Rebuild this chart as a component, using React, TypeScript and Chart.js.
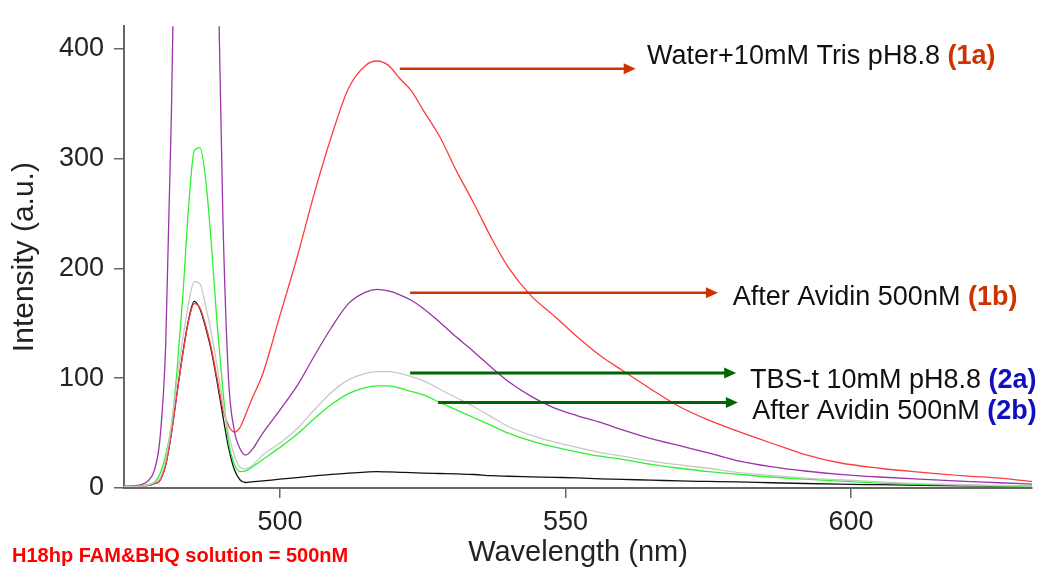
import React, { useEffect, useRef } from "react";
import { Chart, registerables } from "chart.js";

Chart.register(...registerables);

// Wavelength (nm) sampling points, shared by every spectrum
const WAVELENGTH = [
  472.7, 474, 476, 477, 478, 479, 480, 481, 482, 483, 484, 485, 486, 487, 488, 489, 490, 491, 492, 493,
  494, 495, 497, 500, 503, 506, 509, 512, 515, 517, 519, 521, 523, 525, 528, 531, 534, 537, 540, 544,
  548, 552, 556, 560, 565, 570, 575, 580, 586, 592, 598, 605, 612, 620, 626, 631.7,
];

// (1a) Water + 10mM Tris pH8.8 — red
const WATER_TRIS_1A = [
  1.5, 1.5, 2, 2.5, 4, 7, 21, 50, 87, 122, 152, 168, 164, 148, 127, 100, 72, 57, 51, 55,
  67, 80, 104, 157, 210, 268, 320, 364, 385, 389, 385, 373, 362, 345, 320, 288, 259, 228, 201, 175,
  157, 138, 121, 107, 90, 74, 62, 52, 41, 30.5, 23, 18, 14.5, 11, 9, 6,
];

// (1b) After Avidin 500nM — purple
const AVIDIN_1B = [
  1.5, 2, 3.5, 7, 16, 45, 130, 340, 650, 900, 1080, 1150, 1130, 1020, 820, 520, 250, 100, 53, 36,
  30, 34, 50, 71, 93, 120, 146, 168, 178.5, 181, 179.5, 176, 171, 164, 151, 137, 124, 110, 97, 83.5,
  73, 66, 60, 53, 45, 38.5, 32, 25, 19.5, 15.5, 12.5, 10, 8, 6, 4.8, 3.5,
];

// (2a) TBS-t 10mM pH8.8 — light gray
const TBS_T_2A = [
  1.5, 1.5, 2, 3, 5, 9, 26, 58, 98, 136, 168, 188, 186, 166, 141, 111, 78, 50, 30, 19,
  17.5, 20, 30, 41, 54, 71, 87, 98.5, 104.5, 106, 106, 104.5, 101.5, 98, 90, 82, 74, 65, 56, 48,
  42, 37, 32.5, 29, 24.5, 21, 18, 14.3, 11.5, 9, 7.5, 5.5, 4, 3, 2.3, 1.8,
];

// (2b) After Avidin 500nM — green
const AVIDIN_2B = [
  1.5, 1.5, 2, 3, 5, 13, 30, 57, 108, 175, 255, 307, 310, 281, 222, 150, 90, 42, 22, 15,
  15.5, 18.5, 26, 37, 49, 63, 76, 86, 91.5, 93, 93, 91, 88, 85, 78, 71, 64, 57, 50, 43,
  37.5, 33, 29, 26, 21.5, 18, 15, 12.7, 10, 8, 6.2, 4.5, 3.3, 2.5, 2, 1.5,
];

// Reference trace — black
const REFERENCE = [
  1.5, 1.5, 2, 2.5, 4, 7, 21, 50, 87, 123, 153, 170, 163, 146, 125, 97, 66, 37, 17, 7.5,
  5, 5.5, 6.5, 8, 9.5, 11, 12.5, 13.5, 14.5, 15, 14.6, 14.3, 14, 13.6, 13.2, 12.8, 12.3, 11.2, 10.7, 10.2,
  9.7, 9.2, 8.4, 7.8, 7.2, 6.4, 6, 5.6, 4.8, 4.1, 3.5, 3, 2.5, 2, 1.7, 1.5,
];

const X_TICKS = [500, 550, 600];
const Y_TICKS = [0, 100, 200, 300, 400];
const X_MIN = 472.7;
const X_MAX = 631.7;
const Y_MIN = 0;
const Y_MAX = 420.7;

const X_TITLE = "Wavelength (nm)";
const Y_TITLE = "Intensity (a.u.)";
const NOTE = "H18hp FAM&BHQ solution = 500nM";

const ANNOTATION_LABELS = [
  "Water+10mM Tris pH8.8",
  "After Avidin 500nM",
  "TBS-t 10mM pH8.8",
  "After Avidin 500nM",
];
const ANNOTATION_TAGS = ["(1a)", "(1b)", "(2a)", "(2b)"];

const FONT = '"Liberation Sans", Arial, Helvetica, sans-serif';

// annotation layout (in data units: wavelength / intensity)
const ANNOTATIONS = [
  { x0: 521.0, x1: 562.3, y: 382, tx: 564.3, ty: 392.8, arrow: "#cc3300", tag: "#cc3300", w: 2.5 },
  { x0: 522.8, x1: 576.7, y: 177.8, tx: 579.3, ty: 173.3, arrow: "#cc3300", tag: "#cc3300", w: 2.5 },
  { x0: 522.8, x1: 579.9, y: 104.7, tx: 582.3, ty: 97.5, arrow: "#006600", tag: "#1010c0", w: 3 },
  { x0: 527.7, x1: 580.2, y: 77.9, tx: 582.7, ty: 69.8, arrow: "#006600", tag: "#1010c0", w: 3 },
];

const annotationPlugin = {
  id: "spectraAnnotations",
  beforeDraw(chart: any) {
    const { ctx, width, height } = chart;
    ctx.save();
    ctx.fillStyle = "#ffffff";
    ctx.fillRect(0, 0, width, height);
    ctx.restore();
  },
  afterDraw(chart: any) {
    const { ctx } = chart;
    const xs = chart.scales.x;
    const ys = chart.scales.y;
    ctx.save();
    ANNOTATIONS.forEach((a, i) => {
      const px0 = xs.getPixelForValue(a.x0);
      const px1 = xs.getPixelForValue(a.x1);
      const py = ys.getPixelForValue(a.y);
      ctx.strokeStyle = a.arrow;
      ctx.lineWidth = a.w;
      ctx.beginPath();
      ctx.moveTo(px0, py);
      ctx.lineTo(px1 - 8, py);
      ctx.stroke();
      ctx.fillStyle = a.arrow;
      ctx.beginPath();
      ctx.moveTo(px1, py);
      ctx.lineTo(px1 - 12, py - 5.5);
      ctx.lineTo(px1 - 12, py + 5.5);
      ctx.closePath();
      ctx.fill();

      const tx = xs.getPixelForValue(a.tx);
      const ty = ys.getPixelForValue(a.ty);
      ctx.textBaseline = "middle";
      ctx.textAlign = "left";
      ctx.font = `27px ${FONT}`;
      ctx.fillStyle = "#111111";
      const label = ANNOTATION_LABELS[i] + " ";
      ctx.fillText(label, tx, ty);
      const lw = ctx.measureText(label).width;
      ctx.font = `bold 27px ${FONT}`;
      ctx.fillStyle = a.tag;
      ctx.fillText(ANNOTATION_TAGS[i], tx + lw, ty);
    });
    ctx.font = `bold 20px ${FONT}`;
    ctx.fillStyle = "#ff0000";
    ctx.textBaseline = "alphabetic";
    ctx.textAlign = "left";
    ctx.fillText(NOTE, 12, 562);
    ctx.restore();
  },
};

function toPoints(values: number[]) {
  return WAVELENGTH.map((w, i) => ({ x: w, y: values[i] }));
}

export default function App() {
  const canvasRef = useRef<HTMLCanvasElement | null>(null);

  useEffect(() => {
    const canvas = canvasRef.current;
    if (!canvas) return;
    const chart = new Chart(canvas, {
      type: "line",
      data: {
        datasets: [
          { label: "TBS-t 10mM pH8.8 (2a)", data: toPoints(TBS_T_2A), borderColor: "#c8c8c8" },
          { label: "After Avidin 500nM (2b)", data: toPoints(AVIDIN_2B), borderColor: "#2ef02e" },
          { label: "After Avidin 500nM (1b)", data: toPoints(AVIDIN_1B), borderColor: "#9a34a8" },
          { label: "Water+10mM Tris pH8.8 (1a)", data: toPoints(WATER_TRIS_1A), borderColor: "#ff3c3c" },
          { label: "Reference", data: toPoints(REFERENCE), borderColor: "#111111" },
        ],
      },
      options: {
        animation: false,
        responsive: false,
        maintainAspectRatio: false,
        layout: { padding: { top: 17, right: 5, left: 0, bottom: 0 } },
        plugins: { legend: { display: false }, tooltip: { enabled: false } },
        elements: {
          point: { radius: 0 },
          line: { tension: 0.4, cubicInterpolationMode: "monotone", borderWidth: 1.3, fill: false },
        },
        scales: {
          x: {
            type: "linear",
            min: X_MIN,
            max: X_MAX,
            afterBuildTicks: (s: any) => {
              s.ticks = X_TICKS.map((v) => ({ value: v }));
            },
            afterFit: (s: any) => {
              s.height = 80;
            },
            grid: { drawOnChartArea: false, drawTicks: true, tickLength: 10, color: "#666666", lineWidth: 1.5 },
            border: { display: true, color: "#666666", width: 2 },
            ticks: { font: { family: FONT, size: 27 }, color: "#222222", padding: 8, maxRotation: 0 },
            title: {
              display: true,
              text: X_TITLE,
              font: { family: FONT, size: 29, lineHeight: 1 },
              color: "#222222",
              padding: { top: 0, bottom: 1 },
            },
          },
          y: {
            type: "linear",
            min: Y_MIN,
            max: Y_MAX,
            afterBuildTicks: (s: any) => {
              s.ticks = Y_TICKS.map((v) => ({ value: v }));
            },
            afterFit: (s: any) => {
              s.width = 124;
            },
            grid: { drawOnChartArea: false, drawTicks: true, tickLength: 10, color: "#666666", lineWidth: 1.5 },
            border: { display: true, color: "#666666", width: 2 },
            ticks: { font: { family: FONT, size: 27 }, color: "#222222", padding: 10 },
            title: {
              display: true,
              text: Y_TITLE,
              font: { family: FONT, size: 30, lineHeight: 1 },
              color: "#222222",
              padding: { top: 10, bottom: 0 },
            },
          },
        },
      },
      plugins: [annotationPlugin],
    } as any);
    return () => chart.destroy();
  }, []);

  return (
    <div style={{ position: "absolute", left: 0, top: 0, width: 1037, height: 568, background: "#fff" }}>
      <canvas ref={canvasRef} width={1037} height={568} style={{ display: "block", width: 1037, height: 568 }} />
    </div>
  );
}
